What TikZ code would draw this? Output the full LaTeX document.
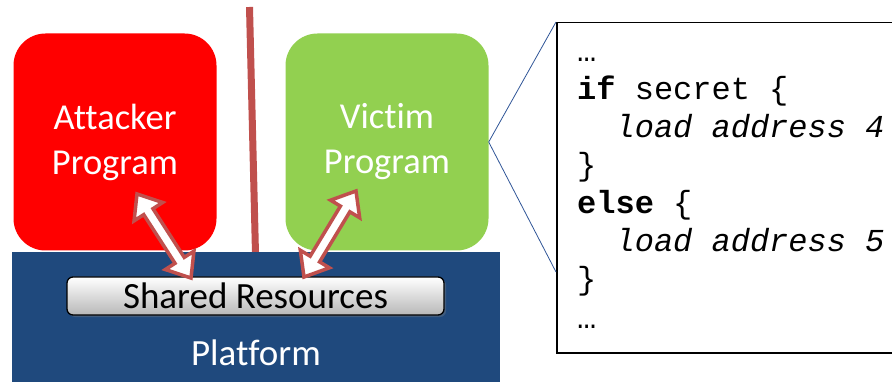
\documentclass[tikz,border=0pt]{standalone}
\usepackage{fontspec}
\setmainfont{Carlito}[Ligatures=NoCommon]
\newfontfamily\codefont{Liberation Mono}
\usepackage{tikz}
\usetikzlibrary{calc, positioning, shadows}

\definecolor{attackred}{HTML}{FF0000}
\definecolor{victimgreen}{HTML}{92D050}
\definecolor{platblue}{HTML}{1F497D}
\definecolor{arrowred}{HTML}{C0504D}
\definecolor{calloutblue}{HTML}{2F5597}

\tikzset{
  progbox/.style={rectangle, rounded corners=32pt, minimum width=203pt, minimum height=217pt,
    text=white, align=center, font=\fontsize{36.5}{45}\selectfont},
  resbox/.style={draw=black, line width=1.3pt, rounded corners=6pt, minimum width=377pt,
    minimum height=38pt, top color=white, bottom color=black!28,
    drop shadow={opacity=0.35, shadow xshift=2pt, shadow yshift=-2pt},
    font=\fontsize{37}{40}\selectfont},
  resarrow/.style={draw=arrowred, fill=white, line width=3.5pt, line join=miter},
  codeline/.style={anchor=base west, inner sep=0pt, font=\codefont\fontsize{32}{38}\selectfont}
}

% double block arrow between two named coordinates
\newcommand{\dblarrow}[2]{%
  \coordinate (#1h) at ($(#1)!21pt!(#2)$);
  \coordinate (#2h) at ($(#2)!21pt!(#1)$);
  \path[resarrow] (#1) -- ($(#1h)!17pt!90:(#2)$) -- ($(#1h)!5.5pt!90:(#2)$)
    -- ($(#2h)!5.5pt!90:(#2)$) -- ($(#2h)!17pt!90:(#2)$) -- (#2)
    -- ($(#2h)!17pt!-90:(#2)$) -- ($(#2h)!5.5pt!-90:(#2)$)
    -- ($(#1h)!5.5pt!-90:(#2)$) -- ($(#1h)!17pt!-90:(#2)$) -- cycle;}

\begin{document}
\begin{tikzpicture}[x=1pt, y=-1pt]
  \useasboundingbox (0,0) rectangle (892,382);

  % wall between the two programs
  \coordinate (walltop) at (249.5,7);
  \coordinate (wallbot) at (255.5,254);
  \draw[arrowred, line width=7pt] (walltop) -- (wallbot);

  \node[progbox, fill=attackred] (attacker) at (115,142) {Attacker\\Program};
  \node[progbox, fill=victimgreen] (victim) at (387,142) {Victim\\Program};

  \node[fill=platblue, minimum width=488pt, minimum height=140pt, anchor=north west, inner sep=0pt] (platform) at (12,252) {};
  \node[text=white, anchor=base, font=\fontsize{37}{40}\selectfont] (platformtext) at (256,365) {Platform};

  \node[resbox] (shared) at (255.5,296) {Shared Resources};

  % arrows between programs and shared resources
  \coordinate (a1) at (137,194);
  \coordinate (a2) at (191,278);
  \coordinate (v1) at (356,191);
  \coordinate (v2) at (304,277);
  \dblarrow{a1}{a2}
  \dblarrow{v1}{v2}

  % code of the victim
  \node[draw=black, line width=1.5pt, fill=white, minimum width=344pt, minimum height=330pt, anchor=north west] (code) at (556,22) {};
  \coordinate (codelow) at (556,272);
  \draw[calloutblue, line width=0.8pt] (code.north west) -- (victim.east) -- (codelow);

  \node[codeline] (l1) at (577,62) {…};
  \node[codeline] (l2) at (577,100) {\textbf{if} secret \{};
  \node[codeline] (l3) at (577,138) {\ \ \textit{load address 4}};
  \node[codeline] (l4) at (577,176) {\}};
  \node[codeline] (l5) at (577,214) {\textbf{else} \{};
  \node[codeline] (l6) at (577,252) {\ \ \textit{load address 5}};
  \node[codeline] (l7) at (577,290) {\}};
  \node[codeline] (l8) at (577,328) {…};
\end{tikzpicture}
\end{document}
